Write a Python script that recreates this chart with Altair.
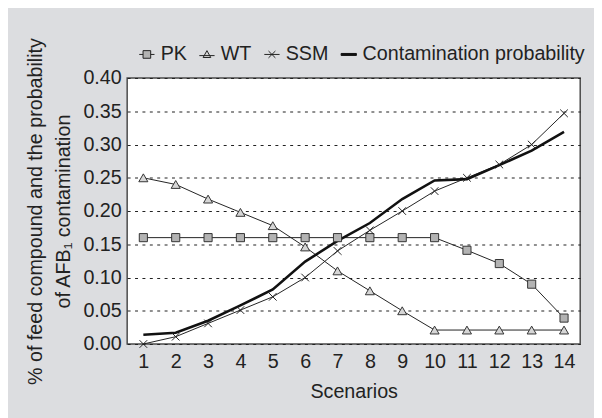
import altair as alt
import pandas as pd

scenarios = [1, 2, 3, 4, 5, 6, 7, 8, 9, 10, 11, 12, 13, 14]
pk = [0.16, 0.16, 0.16, 0.16, 0.16, 0.16, 0.16, 0.16, 0.16, 0.16, 0.141, 0.121, 0.090, 0.039]
wt = [0.25, 0.24, 0.218, 0.198, 0.178, 0.146, 0.11, 0.08, 0.05, 0.021, 0.021, 0.021, 0.021, 0.021]
ssm = [0.000, 0.011, 0.031, 0.051, 0.071, 0.100, 0.140, 0.171, 0.200, 0.230, 0.250, 0.270, 0.300, 0.347]
cont = [0.014, 0.017, 0.035, 0.058, 0.082, 0.124, 0.155, 0.182, 0.218, 0.246, 0.248, 0.269, 0.291, 0.319]
series_names = ["PK", "WT", "SSM", "Contamination probability"]
y_ticks = [0.00, 0.05, 0.10, 0.15, 0.20, 0.25, 0.30, 0.35, 0.40]
y_title = ["% of feed compound and the probability", "of AFB\u2081 contamination"]
x_title = "Scenarios"

rows = []
for name, vals in zip(series_names, [pk, wt, ssm, cont]):
    for s, v in zip(scenarios, vals):
        rows.append({"Scenario": s, "Value": v, "Series": name})
df = pd.DataFrame(rows)

FONT = "Liberation Sans, Arial, sans-serif"
TXT = "#222222"
FS = 20

x_enc = alt.X(
    "Scenario:Q",
    scale=alt.Scale(domain=[0.5, 14.5], nice=False, zero=False),
    axis=alt.Axis(values=scenarios, format="d", title=x_title, grid=False, ticks=False,
                  domain=False, labelFontSize=FS, labelPadding=8, labelColor=TXT,
                  titleFontSize=FS, titleFontWeight="normal", titleColor=TXT,
                  titlePadding=10, labelFlush=False),
)
y_enc = alt.Y(
    "Value:Q",
    scale=alt.Scale(domain=[0, 0.4], nice=False),
    axis=alt.Axis(values=y_ticks, format=".2f", title=y_title, grid=True,
                  gridDash=[3, 4.5], gridColor="#222222", gridWidth=1.1,
                  ticks=False, domain=False, labelFontSize=FS, labelPadding=6,
                  labelColor=TXT, titleFontSize=FS, titleFontWeight="normal",
                  titleColor=TXT, titlePadding=10, titleLineHeight=28),
)

base = alt.Chart(df)

thin = base.transform_filter(alt.datum.Series != "Contamination probability").mark_line(
    color="#222222", strokeWidth=1).encode(x=x_enc, y=y_enc, detail="Series:N")
thick = base.transform_filter(alt.datum.Series == "Contamination probability").mark_line(
    color="#111111", strokeWidth=2.6).encode(x=x_enc, y=y_enc)

pk_pts = base.transform_filter(alt.datum.Series == "PK").mark_point(
    shape="square", size=68, filled=True, fill="#b3b3b3", stroke="#333333",
    strokeWidth=1, opacity=1).encode(x=x_enc, y=y_enc)
wt_pts = base.transform_filter(alt.datum.Series == "WT").mark_point(
    shape="triangle-up", size=85, filled=True, fill="#d6d6d6", stroke="#333333",
    strokeWidth=1, opacity=1).encode(x=x_enc, y=y_enc)
ssm_pts = base.transform_filter(alt.datum.Series == "SSM").mark_point(
    shape="M-1,-1L1,1M-1,1L1,-1", size=60, filled=False, stroke="#222222",
    strokeWidth=1, opacity=1).encode(x=x_enc, y=y_enc)

legend_paths = [
    "M-1,0H-0.5M0.5,0H1M-0.5,-0.5H0.5V0.5H-0.5Z",
    "M-1,0.15H1M0,-0.5L0.5,0.4H-0.5Z",
    "M-1,0H1M-0.45,-0.45L0.45,0.45M-0.45,0.45L0.45,-0.45",
    "M-1,-0.13H1V0.13H-1Z",
]
legend_fills = ["#b3b3b3", "#d6d6d6", "transparent", "#111111"]
legend_strokes = ["#222222", "#222222", "#222222", "#111111"]
leg = alt.Legend(title=None, orient="none", legendX=10, legendY=-34, direction="horizontal",
                 labelFontSize=FS, labelColor=TXT, labelOffset=4, columnPadding=10,
                 labelLimit=400, symbolSize=240, symbolOpacity=1, symbolStrokeWidth=1,
                 padding=0)
legend_layer = base.mark_point(filled=True, opacity=0).encode(
    x=x_enc, y=y_enc,
    shape=alt.Shape("Series:N", scale=alt.Scale(domain=series_names, range=legend_paths), legend=leg),
    fill=alt.Fill("Series:N", scale=alt.Scale(domain=series_names, range=legend_fills), legend=leg),
    stroke=alt.Stroke("Series:N", scale=alt.Scale(domain=series_names, range=legend_strokes), legend=leg),
)

chart = alt.layer(thin, thick, pk_pts, wt_pts, ssm_pts, legend_layer).properties(
    width=460, height=270,
    padding={"left": 121, "top": 68, "right": 14, "bottom": 74},
    autosize=alt.AutoSizeParams(type="none"),
    background="#dcdde0",
).configure(font=FONT).configure_view(fill="white", stroke="#4a4a4a", strokeWidth=1.5)

chart.save("out.html", embed_options={"renderer": "svg", "actions": False})
